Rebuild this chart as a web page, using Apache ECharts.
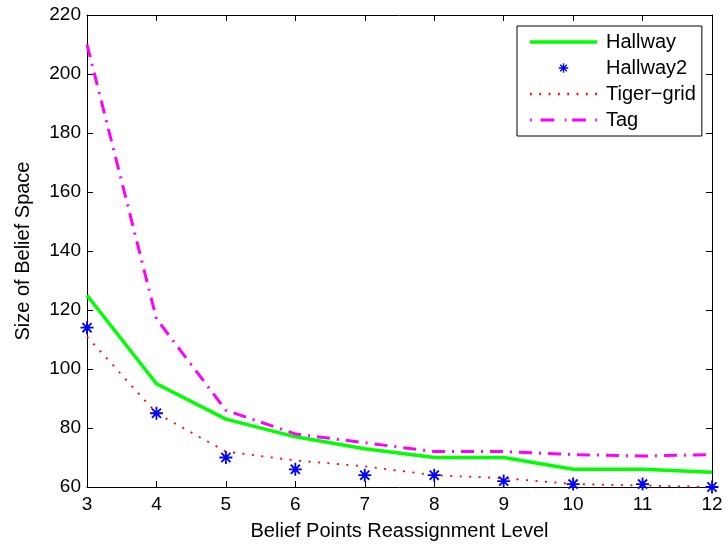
<!DOCTYPE html>
<html>
<head>
<meta charset="utf-8">
<script src="https://cdn.jsdelivr.net/npm/echarts@6/dist/echarts.min.js"></script>
<style>html,body{margin:0;padding:0;background:#fff;}#main{width:728px;height:547px;}</style>
</head>
<body>
<div id="main"></div>
<script>
var levels = [3, 4, 5, 6, 7, 8, 9, 10, 11, 12];
var hallway = [125, 95, 83, 77, 73, 70, 70, 66, 66, 65];
var hallway2 = [114, 85, 70, 66, 64, 64, 62, 61, 61, 60];
var tigerGrid = [111, 85, 72, 69, 67, 64, 63, 61, 60.5, 60];
var tag = [210, 117, 86, 78, 75, 72, 72, 71, 70.5, 71];
var yTicks = [60, 80, 100, 120, 140, 160, 180, 200, 220];
var seriesNames = ['Hallway', 'Hallway2', 'Tiger\u2212grid', 'Tag'];

function pairs(xs, ys) { return xs.map(function (x, i) { return [x, ys[i]]; }); }
function rect(x, y, w, h) { return 'M' + x + ',' + y + ' L' + (x + w) + ',' + y + ' L' + (x + w) + ',' + (y + h) + ' L' + x + ',' + (y + h) + ' Z '; }

var FONT = "'Liberation Sans', Arial, Helvetica, sans-serif";
var starBody = 'M-1.4,-10 L1.4,-10 L1.4,10 L-1.4,10 Z M-10,-1.4 L10,-1.4 L10,1.4 L-10,1.4 Z ' +
  'M-6.0,-8.0 L8.0,6.0 L6.0,8.0 L-8.0,-6.0 Z M6.0,-8.0 L8.0,-6.0 L-6.0,8.0 L-8.0,6.0 Z ';
var star = 'path://' + starBody;
// legend icons (bounding boxes padded with tiny points so they keep their real size)
var iconSolid = 'path://' + rect(0, 0, 67, 3.5);
var iconStar = 'path://' + starBody + rect(0, -21, 0.01, 0.01) + rect(0, 21, 0.01, 0.01);
var dotPath = '';
for (var k = 0; k < 8; k++) { dotPath += rect(k * 9.5, 0, 1.8, 2.6); }
var iconDots = 'path://' + dotPath;
var iconDashDot = 'path://' + rect(0, 0, 1.6, 3) + rect(10, 0, 13, 3) + rect(33, 0, 1.6, 3) + rect(40, 0, 13, 3) + rect(62, 0, 1.6, 3);

var chart = echarts.init(document.getElementById('main'));
var baseAxis = {
  type: 'value', min: 3, max: 12, interval: 1,
  axisLine: { show: true, lineStyle: { color: '#000', width: 1 } },
  axisTick: { show: true, inside: true, length: 6, lineStyle: { color: '#000' } },
  splitLine: { show: false }
};
chart.setOption({
  animation: false,
  backgroundColor: '#fff',
  textStyle: { fontFamily: FONT },
  grid: { left: 87, right: 16, top: 15, bottom: 60, containLabel: false },
  xAxis: [
    Object.assign({}, baseAxis, {
      position: 'bottom',
      name: 'Belief Points Reassignment Level',
      nameLocation: 'middle', nameGap: 34,
      nameTextStyle: { fontSize: 20, color: '#000', fontFamily: FONT },
      axisLabel: { show: true, margin: 8, fontSize: 19, color: '#000', fontFamily: FONT }
    }),
    Object.assign({}, baseAxis, { position: 'top', axisLabel: { show: false } })
  ],
  yAxis: [
    {
      type: 'value', min: 60, max: 220, interval: 20, position: 'left',
      name: 'Size of Belief Space', nameLocation: 'middle', nameGap: 54,
      nameTextStyle: { fontSize: 20, color: '#000', fontFamily: FONT },
      axisLine: { show: true, lineStyle: { color: '#000', width: 1 } },
      axisTick: { show: true, inside: true, length: 6, lineStyle: { color: '#000' } },
      axisLabel: { show: true, margin: 6, fontSize: 19, color: '#000', fontFamily: FONT,
        formatter: function (v) { return yTicks.indexOf(v) >= 0 ? String(v) : ''; } },
      splitLine: { show: false }
    },
    {
      type: 'value', min: 60, max: 220, interval: 20, position: 'right',
      axisLine: { show: true, lineStyle: { color: '#000', width: 1 } },
      axisTick: { show: true, inside: true, length: 6, lineStyle: { color: '#000' } },
      axisLabel: { show: false },
      splitLine: { show: false }
    }
  ],
  legend: {
    orient: 'vertical', left: 517, top: 26,
    backgroundColor: '#fff', borderColor: '#000', borderWidth: 1, borderRadius: 0,
    padding: [6, 6, 6, 13], itemGap: 6, itemWidth: 67, itemHeight: 20,
    itemStyle: { borderWidth: 0 },
    textStyle: { fontSize: 20, color: '#000', fontFamily: FONT, padding: [0, 0, 0, 4] },
    data: [
      { name: seriesNames[0], icon: iconSolid },
      { name: seriesNames[1], icon: iconStar },
      { name: seriesNames[2], icon: iconDots },
      { name: seriesNames[3], icon: iconDashDot }
    ]
  },
  series: [
    { name: seriesNames[0], type: 'line', data: pairs(levels, hallway), symbol: 'none',
      lineStyle: { color: '#00ff00', width: 3.5 }, itemStyle: { color: '#00ff00' } },
    { name: seriesNames[1], type: 'line', data: pairs(levels, hallway2), symbol: star, symbolSize: 13,
      showSymbol: true, lineStyle: { width: 0, opacity: 0 }, itemStyle: { color: '#0000ff' } },
    { name: seriesNames[2], type: 'line', data: pairs(levels, tigerGrid), symbol: 'none',
      lineStyle: { color: '#ff0000', width: 1.8, type: [2, 7.5] }, itemStyle: { color: '#ff0000' } },
    { name: seriesNames[3], type: 'line', data: pairs(levels, tag), symbol: 'none',
      lineStyle: { color: '#ff00ff', width: 3, type: [13, 7, 2, 7] }, itemStyle: { color: '#ff00ff' } }
  ]
});
</script>
</body>
</html>
